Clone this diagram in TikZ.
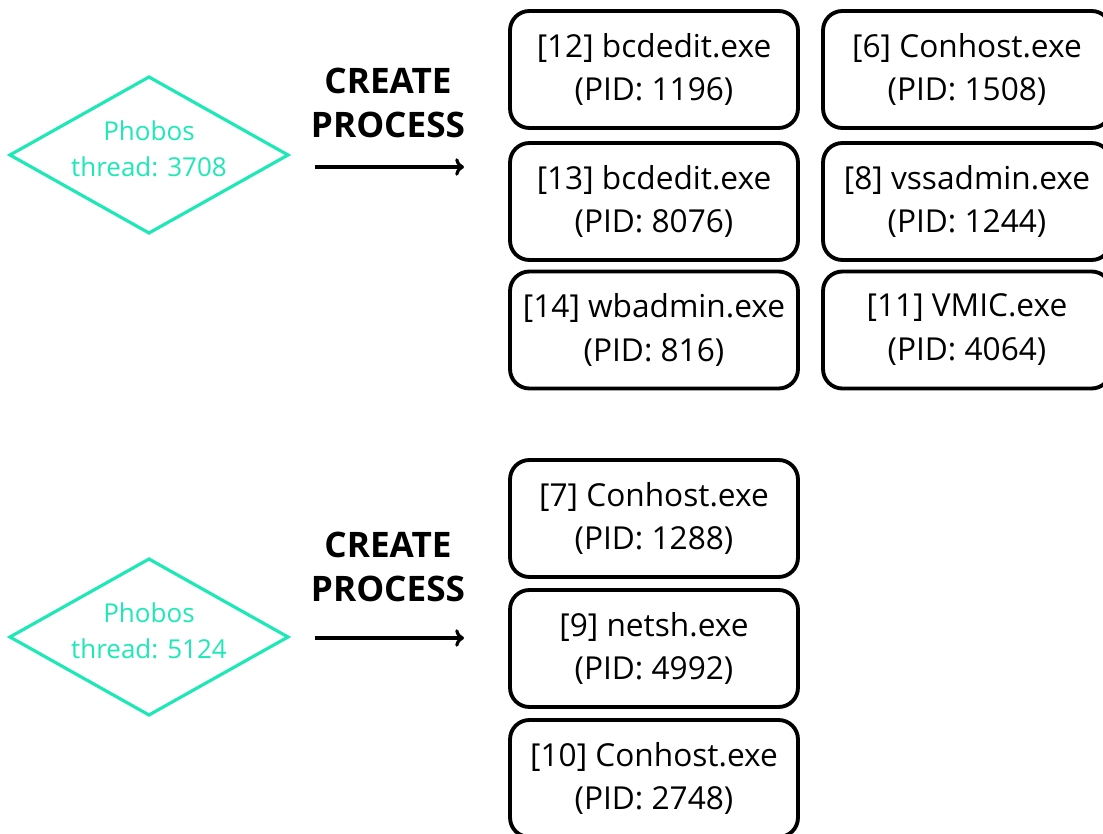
\documentclass[tikz,border=0pt]{standalone}
\usepackage{fontspec}
\setmainfont{Open Sans}
\usetikzlibrary{arrows.meta}
\usetikzlibrary{calc}

\definecolor{phobos}{HTML}{1EE8B6}

\begin{document}
\begin{tikzpicture}[x=0.02cm,y=-0.02cm,
  proc/.style={draw,line width=2.2pt,rounded corners=11pt,minimum width=5.76cm,
    minimum height=2.34cm,align=center,font=\fontsize{18}{25}\selectfont},
  thread/.style={text=phobos,align=center,font=\fontsize{14.8}{20.5}\selectfont},
  border/.style={draw=phobos,line width=1.8pt,line join=miter},
  label/.style={align=center,font=\bfseries\fontsize{20}{25.5}\selectfont},
  call/.style={line width=1.8pt,-{To[length=5pt,width=10pt]}}]

\useasboundingbox (0,0) rectangle (1103,834);

% first thread
\node[thread] (t1) at (149,149) {Phobos\\thread: 3708};
\draw[border] ($(t1)+(-139,6)$) -- ($(t1)+(0,-72)$) -- ($(t1)+(139,6)$)
  -- ($(t1)+(0,84)$) -- cycle;
\node[label] (c1) at (388,103) {CREATE\\PROCESS};
\coordinate (a1) at (315,167);
\coordinate (b1) at (464,167);
\draw[call] (a1) -- (b1);

\node[proc] (p12) at (654,69.5) {[12] bcdedit.exe\\(PID: 1196)};
\node[proc] (p13) at (654,201.5) {[13] bcdedit.exe\\(PID: 8076)};
\node[proc] (p14) at (654,330) {[14] wbadmin.exe\\(PID: 816)};
\node[proc] (p6) at (967,69.5) {[6] Conhost.exe\\(PID: 1508)};
\node[proc] (p8) at (967,201.5) {[8] vssadmin.exe\\(PID: 1244)};
\node[proc] (p11) at (967,330) {[11] VMIC.exe\\(PID: 4064)};

% second thread
\node[thread] (t2) at (149,631) {Phobos\\thread: 5124};
\draw[border] ($(t2)+(-139,6)$) -- ($(t2)+(0,-72)$) -- ($(t2)+(139,6)$)
  -- ($(t2)+(0,84)$) -- cycle;
\node[label] (c2) at (388,567) {CREATE\\PROCESS};
\coordinate (a2) at (315,638);
\coordinate (b2) at (464,638);
\draw[call] (a2) -- (b2);

\node[proc] (p7) at (654,518.5) {[7] Conhost.exe\\(PID: 1288)};
\node[proc] (p9) at (654,648.5) {[9] netsh.exe\\(PID: 4992)};
\node[proc] (p10) at (654,778.5) {[10] Conhost.exe\\(PID: 2748)};

\end{tikzpicture}
\end{document}
